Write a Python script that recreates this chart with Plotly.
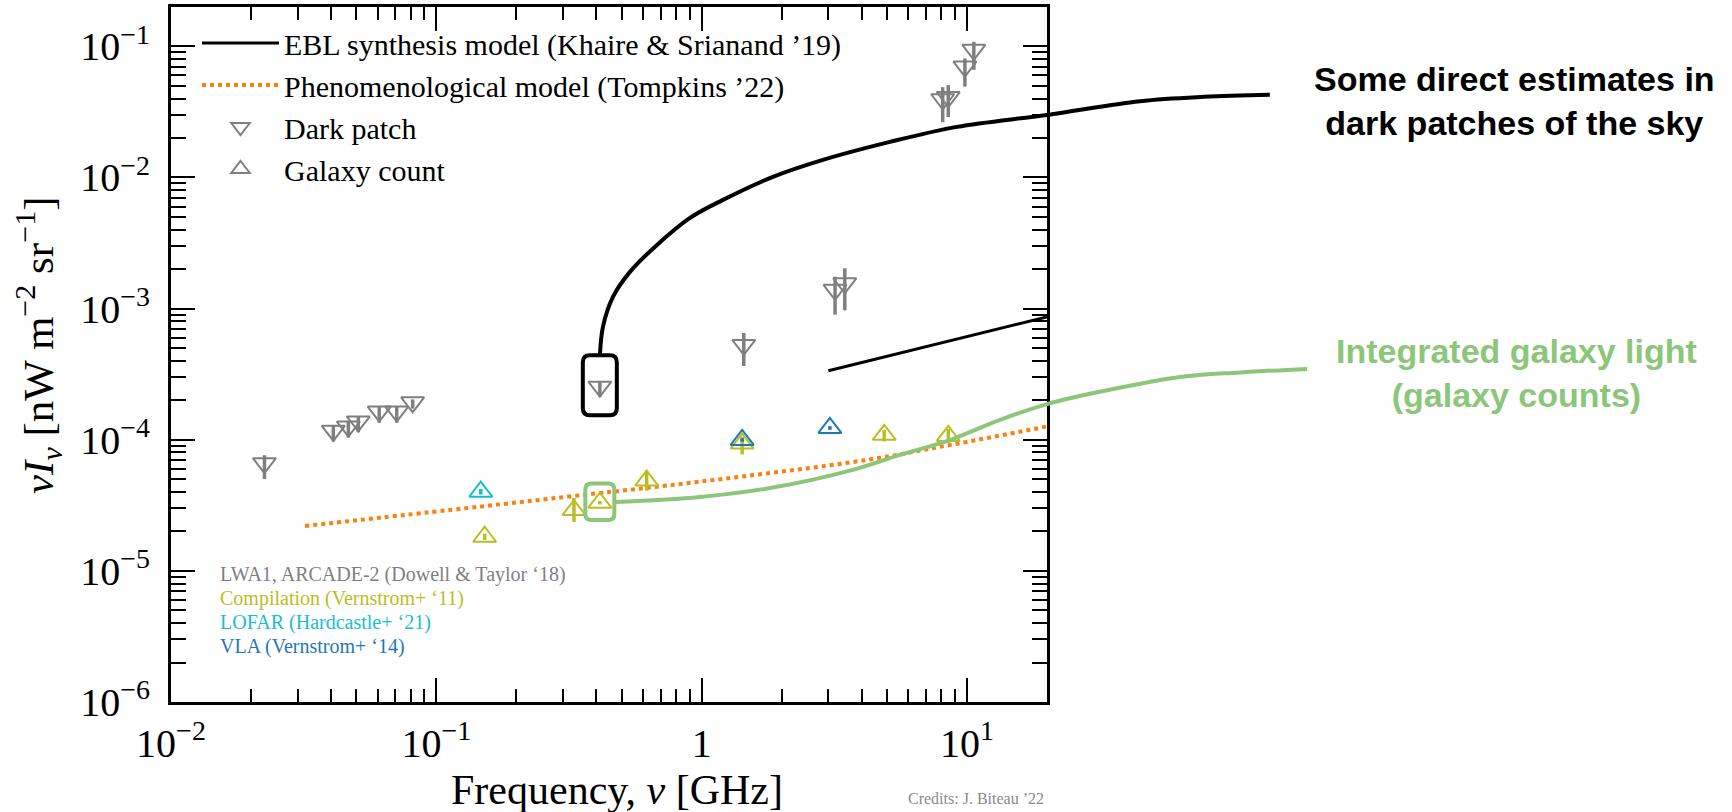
import numpy as np
import plotly.graph_objects as go

# ---------------- data (frequency in GHz, nu*I_nu in nW m^-2 sr^-1) ----------------
# Direct estimates in dark patches (LWA1, ARCADE-2 and others; Dowell & Taylor '18)
dark_freq = [0.0225, 0.0409, 0.0466, 0.0508, 0.0609, 0.0709, 0.0814, 0.413,
             1.44, 3.18, 3.46, 8.09, 8.49, 9.81, 10.6]
dark_val = [6.62e-5, 1.17e-4, 1.26e-4, 1.38e-4, 1.64e-4, 1.64e-4, 1.93e-4, 2.54e-4,
            5.28e-4, 1.39e-3, 1.56e-3, 3.95e-2, 4.10e-2, 7.01e-2, 9.4e-2]
dark_err_hi = [1.0e-5, 1.1e-5, 1.2e-5, 1.3e-5, 1.5e-5, 1.5e-5, 1.0e-5, 2.0e-5,
               1.24e-4, 3.6e-4, 4.7e-4, 9.3e-3, 9.6e-3, 1.06e-2, 1.42e-2]
dark_err_lo = [1.6e-5, 2.0e-5, 2.2e-5, 2.4e-5, 2.9e-5, 2.9e-5, 2.0e-5, 4.1e-5,
               1.63e-4, 4.9e-4, 5.9e-4, 1.31e-2, 1.21e-2, 2.08e-2, 2.78e-2]

# Galaxy-count estimates
comp_freq = [0.152, 0.330, 0.413, 0.620, 1.42, 4.87, 8.49]          # Vernstrom+ '11
comp_val = [1.82e-5, 2.91e-5, 3.31e-5, 4.88e-5, 9.34e-5, 1.09e-4, 1.07e-4]
comp_err_hi = [1.0e-6, 6.8e-6, 1.0e-6, 9.4e-6, 1.2e-5, 1.0e-5, 1.4e-5]
comp_err_lo = [1.0e-6, 5.5e-6, 1.0e-6, 7.9e-6, 1.6e-5, 1.2e-5, 1.2e-5]

lofar_freq = [0.147]                                                # Hardcastle+ '21
lofar_val = [4.02e-5]
lofar_err = [2.0e-6]

vla_freq = [1.42, 3.04]                                             # Vernstrom+ '14
vla_val = [9.97e-5, 1.23e-4]
vla_err = [3.0e-6, 4.0e-6]

# Models
ebl_freq = [3.0, 8.0, 20.0]                                         # Khaire & Srianand '19
ebl_val = [3.36e-4, 5.47e-4, 8.65e-4]

pheno_freq = [0.032, 0.146, 0.328, 0.984, 4.18, 8.61, 20.0]         # Tompkins '22
pheno_val = [2.20e-5, 3.09e-5, 3.72e-5, 4.79e-5, 7.01e-5, 9.12e-5, 1.263e-4]

# Call-out connectors (same units, they run past the right edge of the frame)
dark_link_freq = [0.4134, 0.4243, 0.4628, 0.5364, 0.6781, 0.9029, 1.202, 1.855,
                  2.862, 5.119, 9.155, 19.99, 44.78, 78.0, 138.3]
dark_link_val = [4.43e-4, 7.25e-4, 1.228e-3, 1.905e-3, 3.06e-3, 4.92e-3, 6.75e-3,
                 1.011e-2, 1.362e-2, 1.868e-2, 2.432e-2, 3.00e-2, 3.82e-2, 4.12e-2,
                 4.27e-2]
igl_link_freq = [0.471, 0.985, 1.81, 3.71, 5.58, 8.61, 13.29, 20.0, 31.6, 63.4,
                 106.6, 191.0]
igl_link_val = [3.35e-5, 3.66e-5, 4.28e-5, 5.89e-5, 7.66e-5, 9.95e-5, 1.416e-4,
                1.87e-4, 2.32e-4, 3.01e-4, 3.26e-4, 3.47e-4]

# Axis ticks
x_tickvals = [0.01, 0.1, 1, 10]
x_ticktext = ["10<sup>−2</sup>", "10<sup>−1</sup>", "1", "10<sup>1</sup>"]
y_tickvals = [1e-6, 1e-5, 1e-4, 1e-3, 1e-2, 1e-1]
y_ticktext = ["10<sup>−6</sup>", "10<sup>−5</sup>", "10<sup>−4</sup>",
              "10<sup>−3</sup>", "10<sup>−2</sup>", "10<sup>−1</sup>"]

source_labels = ["LWA1, ARCADE-2 (Dowell & Taylor ‘18)", "Compilation (Vernstrom+ ‘11)",
                 "LOFAR (Hardcastle+ ‘21)", "VLA (Vernstrom+ ‘14)"]

# ---------------- styling ----------------
W, H = 1732, 812
SERIF = "Liberation Serif"
SANS = "Liberation Sans"
GRAY = "#7f7f7f"
OLIVE = "#bcbd22"
CYAN = "#17becf"
BLUE = "#1f77b4"
ORANGE = "#ff7f0e"
GREEN = "#8cc67a"
MSIZE = 20

XR = [-2.0, np.log10(20.0)]
YR = [-6.0, -0.7]
XD = [171 / W, 1047 / W]
YD = [(H - 702) / H, (H - 7) / H]


def outer_range(r, d):
    """Range of a full-figure axis that lines up with an axis spanning domain d."""
    per = (r[1] - r[0]) / (d[1] - d[0])
    return [r[0] - d[0] * per, r[1] + (1 - d[1]) * per]


def px(fx, fy):
    """Figure pixel position of a data point on the main axes."""
    x = (XD[0] + (np.log10(fx) - XR[0]) / (XR[1] - XR[0]) * (XD[1] - XD[0])) * W
    y = (1 - (YD[0] + (np.log10(fy) - YR[0]) / (YR[1] - YR[0]) * (YD[1] - YD[0]))) * H
    return x, y


def rounded_box(fx, fy, hw, hh, r, dx=0.0, dy=0.0):
    """SVG path (paper coords) for a rounded frame around a data point."""
    cx, cy = px(fx, fy)
    cx += dx
    cy += dy
    x0, x1 = (cx - hw) / W, (cx + hw) / W
    y0, y1 = 1 - (cy + hh) / H, 1 - (cy - hh) / H
    rx, ry = r / W, r / H
    return (f"M{x0 + rx},{y1} L{x1 - rx},{y1} Q{x1},{y1} {x1},{y1 - ry} "
            f"L{x1},{y0 + ry} Q{x1},{y0} {x1 - rx},{y0} L{x0 + rx},{y0} "
            f"Q{x0},{y0} {x0},{y0 + ry} L{x0},{y1 - ry} Q{x0},{y1} {x0 + rx},{y1} Z")


fig = go.Figure()

# Models
fig.add_trace(go.Scatter(
    x=ebl_freq, y=ebl_val, mode="lines", name="EBL synthesis model (Khaire & Srianand ’19)",
    line=dict(color="black", width=3), hoverinfo="skip"))
fig.add_trace(go.Scatter(
    x=pheno_freq, y=pheno_val, mode="lines", name="Phenomenological model (Tompkins ’22)",
    line=dict(color=ORANGE, width=4, dash="dot", shape="spline"), hoverinfo="skip"))

# Dark patches
fig.add_trace(go.Scatter(
    x=dark_freq, y=dark_val, mode="markers", name="Dark patch",
    marker=dict(symbol="triangle-down-open", size=MSIZE, color=GRAY, line=dict(width=2)),
    error_y=dict(type="data", symmetric=False, array=dark_err_hi, arrayminus=dark_err_lo,
                 color=GRAY, thickness=3.5, width=0)))

# Galaxy counts (legend entry in neutral gray)
fig.add_trace(go.Scatter(
    x=[None], y=[None], mode="markers", name="Galaxy count",
    marker=dict(symbol="triangle-up-open", size=MSIZE, color=GRAY, line=dict(width=2))))

for fx, fy, ehi, elo, col in [
    (comp_freq, comp_val, comp_err_hi, comp_err_lo, OLIVE),
    (lofar_freq, lofar_val, lofar_err, lofar_err, CYAN),
    (vla_freq, vla_val, vla_err, vla_err, BLUE),
]:
    fig.add_trace(go.Scatter(
        x=fx, y=fy, mode="markers", showlegend=False,
        marker=dict(symbol="triangle-up-open", size=MSIZE, color=col, line=dict(width=2)),
        error_y=dict(type="data", symmetric=False, array=ehi, arrayminus=elo,
                     color=col, thickness=3.5, width=0)))

# Call-out connectors on a full-figure overlay
fig.add_trace(go.Scatter(
    x=dark_link_freq, y=dark_link_val, mode="lines", xaxis="x2", yaxis="y2",
    line=dict(color="black", width=4, shape="spline", smoothing=1.0),
    showlegend=False, hoverinfo="skip"))
fig.add_trace(go.Scatter(
    x=igl_link_freq, y=igl_link_val, mode="lines", xaxis="x2", yaxis="y2",
    line=dict(color=GREEN, width=4, shape="spline", smoothing=1.0),
    showlegend=False, hoverinfo="skip"))

# Frames around the highlighted points
fig.add_shape(type="path", xref="paper", yref="paper",
              path=rounded_box(dark_freq[7], dark_val[7], 17, 30, 7, dy=-1.5),
              line=dict(color="black", width=4))
fig.add_shape(type="path", xref="paper", yref="paper",
              path=rounded_box(comp_freq[2], comp_val[2], 14.5, 18.3, 6, dy=-1),
              line=dict(color=GREEN, width=4))

minor_x = [k * 10.0 ** e for e in range(-2, 2) for k in range(2, 10)]
minor_y = [k * 10.0 ** e for e in range(-6, 0) for k in range(2, 10)]

axis_common = dict(
    type="log", showgrid=False, zeroline=False, showline=True, linewidth=3,
    linecolor="black", mirror="allticks", ticks="inside", ticklen=24, tickwidth=2,
    tickcolor="black", tickmode="array", automargin=False,
    tickfont=dict(family=SERIF, size=40, color="black"),
)

fig.update_layout(
    width=W, height=H, autosize=False,
    margin=dict(l=0, r=0, t=0, b=0, pad=0),
    paper_bgcolor="white", plot_bgcolor="rgba(0,0,0,0)",
    xaxis=dict(axis_common, domain=XD, range=XR, tickvals=x_tickvals, ticktext=x_ticktext,
               ticklabelstandoff=4,
               minor=dict(tickvals=minor_x, ticks="inside", ticklen=13, tickwidth=1.5,
                          tickcolor="black", showgrid=False)),
    yaxis=dict(axis_common, domain=YD, range=YR, tickvals=y_tickvals, ticktext=y_ticktext,
               ticklabelstandoff=10,
               minor=dict(tickvals=minor_y, ticks="inside", ticklen=15, tickwidth=1.5,
                          tickcolor="black", showgrid=False)),
    xaxis2=dict(type="log", domain=[0, 1], range=outer_range(XR, XD), anchor="y2",
                visible=False, fixedrange=True),
    yaxis2=dict(type="log", domain=[0, 1], range=outer_range(YR, YD), anchor="x2",
                visible=False, fixedrange=True),
    showlegend=True,
    legend=dict(x=197 / W, xanchor="left", y=1 - 17 / H, yanchor="top",
                font=dict(family=SERIF, size=30, color="black"),
                bgcolor="rgba(0,0,0,0)", borderwidth=0, itemwidth=77,
                tracegroupgap=0, itemclick=False, itemdoubleclick=False),
    hovermode=False,
)

annotations = [
    # axis titles
    dict(text="Frequency, <i>ν</i> [GHz]", x=617 / W, y=1 - 790 / H,
         font=dict(family=SERIF, size=42, color="black")),
    dict(text="<i>νI<sub>ν</sub></i> [nW m<sup>−2</sup> sr<sup>−1</sup>]",
         x=39 / W, y=1 - 345 / H, textangle=-90,
         font=dict(family=SERIF, size=43, color="black")),
    # credit line
    dict(text="Credits: J. Biteau ’22", x=1046 / W, y=1 - 798 / H, xanchor="right",
         font=dict(family=SERIF, size=16, color="#8a8a8a")),
    # call-out texts
    dict(text="<b>Some direct estimates in<br>dark patches of the sky</b>",
         x=1514 / W, y=1 - 101 / H, align="center",
         font=dict(family=SANS, size=34, color="black")),
    dict(text="<b>Integrated galaxy light<br>(galaxy counts)</b>",
         x=1516 / W, y=1 - 373 / H, align="center",
         font=dict(family=SANS, size=34, color=GREEN)),
]
for label, col, ypix in zip(source_labels, [GRAY, OLIVE, CYAN, BLUE], [574, 598, 622, 646]):
    annotations.append(dict(text=label, x=218 / W, y=1 - ypix / H, xanchor="left",
                            font=dict(family=SERIF, size=20, color=col)))

for a in annotations:
    a.setdefault("xanchor", "center")
    a.update(xref="paper", yref="paper", yanchor="middle", showarrow=False)
fig.update_layout(annotations=annotations)

fig.write_html("out.html")
